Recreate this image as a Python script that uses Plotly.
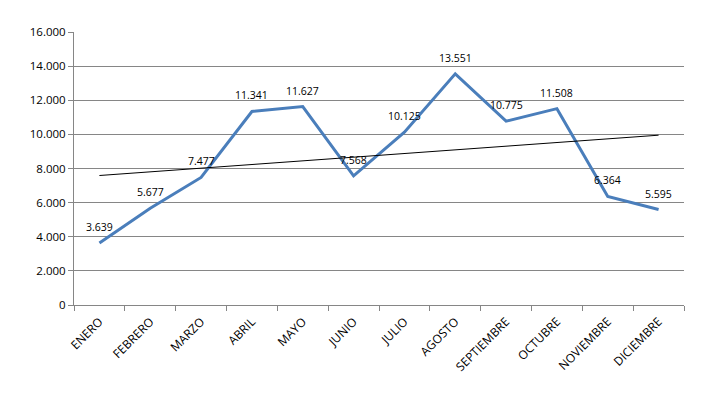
import numpy as np
import plotly.graph_objects as go

months = ["ENERO", "FEBRERO", "MARZO", "ABRIL", "MAYO", "JUNIO", "JULIO",
          "AGOSTO", "SEPTIEMBRE", "OCTUBRE", "NOVIEMBRE", "DICIEMBRE"]
values = [3639, 5677, 7477, 11341, 11627, 7568, 10125, 13551, 10775, 11508, 6364, 5595]
y_ticks = [0, 2000, 4000, 6000, 8000, 10000, 12000, 14000, 16000]

# Linear trendline (least squares) computed from the series
xi = np.arange(1, len(values) + 1)
slope, intercept = np.polyfit(xi, values, 1)
trend = slope * xi + intercept

FONT = "Open Sans"

fig = go.Figure()
fig.add_trace(go.Scatter(
    x=months, y=values, mode="lines",
    line=dict(color="#4A7EBB", width=3),
    showlegend=False, hoverinfo="skip",
))
fig.add_trace(go.Scatter(
    x=months, y=trend, mode="lines",
    line=dict(color="#000000", width=1),
    showlegend=False, hoverinfo="skip",
))

for m, v in zip(months, values):
    fig.add_annotation(
        x=m, y=v, text=f"{v:,}".replace(",", "."),
        showarrow=False, yshift=16,
        font=dict(family=FONT, size=10.5, color="#000000"),
    )

fig.update_layout(
    width=709, height=397,
    margin=dict(l=74, r=25, t=32, b=92),
    paper_bgcolor="white", plot_bgcolor="white",
    separators=",.",
    font=dict(family=FONT, size=12, color="#000000"),
)
fig.update_xaxes(
    type="category", range=[-0.5, 11.5], tickson="boundaries",
    ticks="outside", ticklen=5, tickcolor="#868686",
    showline=True, linecolor="#868686", linewidth=1,
    showgrid=False, tickangle=-45, ticklabelstandoff=4,
    tickfont=dict(family=FONT, size=12),
)
fig.update_yaxes(
    range=[0, 16000], tickvals=y_ticks, tickformat=",d",
    ticks="outside", ticklen=5, tickcolor="#868686",
    showline=True, linecolor="#868686", linewidth=1,
    showgrid=True, gridcolor="#868686", gridwidth=1,
    zeroline=False,
    tickfont=dict(family=FONT, size=11.5),
)

fig.write_html("out.html", config={"displayModeBar": False},
               post_script="document.body.style.margin='0';")
